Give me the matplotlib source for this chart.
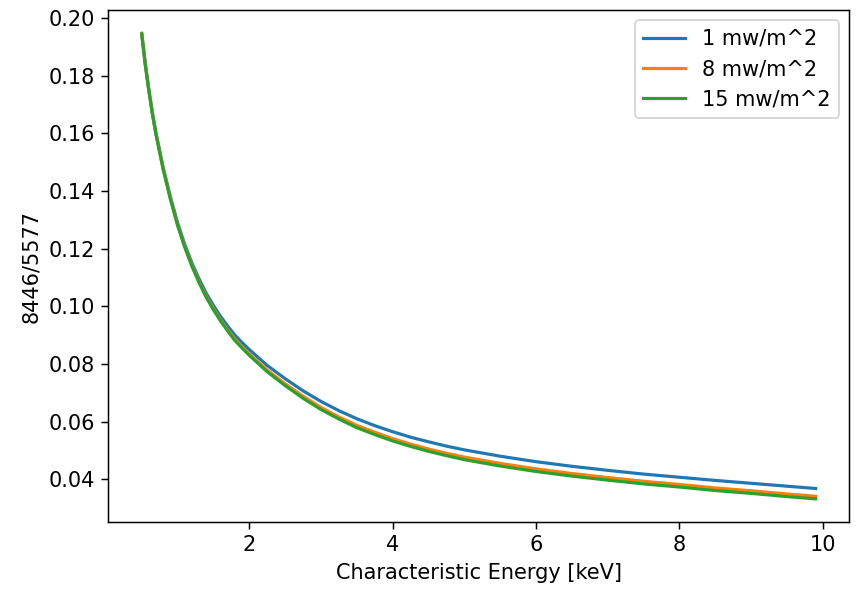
import matplotlib
matplotlib.use("Agg")
import matplotlib.pyplot as plt

# Characteristic energy [keV]
energy = [0.5, 0.55, 0.6, 0.65, 0.7, 0.8, 0.9, 1.0,
          1.1, 1.2, 1.3, 1.4, 1.5, 1.6, 1.7, 1.8, 1.9, 2.0,
          2.25, 2.5, 2.75, 3.0, 3.25, 3.5, 3.75, 4.0, 4.25, 4.5, 4.75, 5.0,
          5.5, 6.0, 6.5, 7.0, 7.5, 8.0, 8.5, 9.0, 9.5, 9.9]

# 8446/5577 ratio for each energy flux
ratio_1 = [0.1947, 0.1840, 0.1750, 0.1670, 0.1600, 0.1480, 0.1380, 0.1290,
           0.1215, 0.1150, 0.1095, 0.1045, 0.1003, 0.0965, 0.0931, 0.0900, 0.0874, 0.0850,
           0.0795, 0.0749, 0.0707, 0.0670, 0.0638, 0.0610, 0.0586, 0.0565, 0.0546, 0.0530, 0.0515, 0.0502,
           0.0480, 0.0461, 0.0445, 0.0431, 0.0418, 0.0407, 0.0396, 0.0386, 0.0376, 0.0368]
ratio_8 = [0.1946, 0.1839, 0.1748, 0.1667, 0.1596, 0.1476, 0.1374, 0.1283,
           0.1207, 0.1142, 0.1085, 0.1035, 0.0992, 0.0953, 0.0918, 0.0886, 0.0860, 0.0835,
           0.0779, 0.0731, 0.0688, 0.0649, 0.0616, 0.0587, 0.0563, 0.0541, 0.0522, 0.0505, 0.0490, 0.0477,
           0.0455, 0.0436, 0.0420, 0.0406, 0.0393, 0.0382, 0.0370, 0.0360, 0.0349, 0.0341]
ratio_15 = [0.1945, 0.1838, 0.1747, 0.1666, 0.1595, 0.1474, 0.1372, 0.1281,
            0.1205, 0.1139, 0.1082, 0.1031, 0.0988, 0.0949, 0.0914, 0.0881, 0.0855, 0.0830,
            0.0773, 0.0725, 0.0681, 0.0642, 0.0609, 0.0579, 0.0555, 0.0533, 0.0514, 0.0497, 0.0482, 0.0468,
            0.0446, 0.0427, 0.0411, 0.0397, 0.0384, 0.0373, 0.0361, 0.0351, 0.0340, 0.0332]

plt.rcParams["font.size"] = 11.2

dpi = 134.4
fig = plt.figure(figsize=(860 / dpi, 590 / dpi), dpi=dpi)
ax = fig.add_axes([0.1256, 0.115, 0.862, 0.868])

ax.plot(energy, ratio_1, label="1 mw/m^2", lw=1.7)
ax.plot(energy, ratio_8, label="8 mw/m^2", lw=1.7)
ax.plot(energy, ratio_15, label="15 mw/m^2", lw=1.7)

ax.set_xlabel("Characteristic Energy [keV]")
ax.set_ylabel("8446/5577")
ax.legend()

fig.savefig("out.png", dpi=dpi)
